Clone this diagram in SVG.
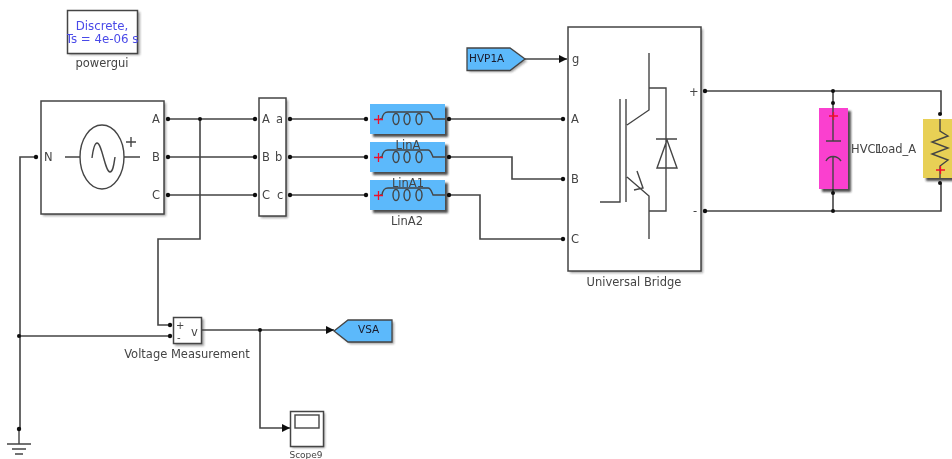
<svg xmlns="http://www.w3.org/2000/svg" width="952" height="459" viewBox="0 0 952 459">
<style>
text{font-family:"DejaVu Sans",sans-serif;font-size:11.500px;fill:#444}
.c{text-anchor:middle}
.b{fill:#fff;stroke:#444;stroke-width:1.5}
.w{fill:none;stroke:#444;stroke-width:1.6}
.i{fill:none;stroke:#444;stroke-width:1.4}
.p{fill:#111}
.sh{fill:#444;opacity:.5;filter:url(#sb)}
.dk{fill:#222;opacity:.8;filter:url(#sb)}
.rd{fill:none;stroke:#f0102a;stroke-width:1.3}
.tag{fill:#1a1a2a;font-size:10.500px}
.d{fill:#4a4ae8;font-size:11.800px}
</style>
<defs>
<filter id="bl" x="-2%" y="-2%" width="104%" height="104%"><feGaussianBlur stdDeviation="0.65"/></filter>
<filter id="sb" x="-20%" y="-20%" width="140%" height="140%"><feGaussianBlur stdDeviation="1"/></filter>
<clipPath id="pg"><rect x="67" y="10" width="71" height="44"/></clipPath>
<marker id="ah" markerWidth="9" markerHeight="8" refX="8" refY="4" orient="auto" markerUnits="userSpaceOnUse"><path d="M0 0L8 4L0 8Z" fill="#111"/></marker>
<g id="coil"><path class="i" d="M0 15H2C3 9 5 8 8 8H48C51 8 52 13 53 15H65"/><ellipse class="i" cx="16" cy="15" rx="3" ry="5.500"/><ellipse class="i" cx="27" cy="15" rx="3" ry="5.500"/><ellipse class="i" cx="39" cy="15" rx="3" ry="5.500"/><path class="rd" d="M-6 15.500H3M-1.500 11V20"/></g>
</defs>
<rect width="952" height="459" fill="#fff"/>
<g filter="url(#bl)">
<g id="connectors">
<path class="w" d="M168 119H254M168 157H254M168 195H254M290 119H366M290 157H366M290 195H366"/>
<path class="w" d="M200 119V239H158V325H168M36 157H20V429M20 336H168"/>
<path class="w" d="M449 119H563M449 157H512V179H563M449 195H480V239H563"/>
<path class="w" d="M525 59H567" marker-end="url(#ah)"/>
<path class="w" d="M202 330H334" marker-end="url(#ah)"/>
<path class="w" d="M260 330V428H290" marker-end="url(#ah)"/>
<path class="w" d="M705 91H941V115M705 211H941V183M833 91V108M833 189V211"/>
</g>
<g id="powergui"><rect class="sh" x="69" y="12" width="71" height="43"/><rect class="b" x="67.500" y="10.500" width="70" height="43"/><g clip-path="url(#pg)"><text class="c d" x="102" y="30">Discrete,</text><text class="c d" x="102" y="42.500">Ts = 4e-06 s</text></g><text class="c" x="102" y="67">powergui</text></g>
<g id="source"><rect class="sh" x="43" y="103" width="123" height="113"/><rect class="b" x="41" y="101" width="123" height="113"/><ellipse class="i" cx="102" cy="157" rx="22" ry="32"/><path class="i" d="M65 157H80M124 157H140M92 158C93 150 95 143 97 143C102 143 105 172 110 172C113 172 114 164 115 157M131 137V147M126 142H136"/><text x="152" y="123">A</text><text x="152" y="161">B</text><text x="152" y="199">C</text><text x="44" y="161">N</text></g>
<g id="transformer"><rect class="sh" x="261" y="100" width="27" height="118"/><rect class="b" x="259" y="98" width="27" height="118"/><text x="262" y="123">A</text><text x="276" y="123">a</text><text x="262" y="161">B</text><text x="275" y="161">b</text><text x="262" y="199">C</text><text x="277" y="199">c</text></g>
<g id="LinA2"><rect class="dk" x="373" y="183" width="75" height="30"/><rect x="370" y="180" width="75" height="30" fill="#5cb9fb"/><use href="#coil" x="380" y="180"/></g>
<g id="LinA1"><rect class="dk" x="373" y="145" width="75" height="30"/><rect x="370" y="142" width="75" height="30" fill="#5cb9fb"/><use href="#coil" x="380" y="142"/></g>
<g id="LinA"><rect class="dk" x="373" y="107" width="75" height="30"/><rect x="370" y="104" width="75" height="30" fill="#5cb9fb"/><use href="#coil" x="380" y="104"/></g>
<text class="c" x="408" y="149">LinA</text><text class="c" x="408" y="187">LinA1</text><text class="c" x="407" y="225">LinA2</text>
<g id="HVP1A"><path class="sh" d="M469 50H512L527 61L512 72H469Z"/><path d="M467 48H510L525 59L510 70.500H467Z" fill="#5cb9fb" stroke="#444" stroke-width="1.300"/><text class="tag" x="469" y="62">HVP1A</text></g>
<g id="bridge"><rect class="sh" x="570" y="29" width="133" height="244"/><rect class="b" x="568" y="27" width="133" height="244"/><path class="i" d="M649 53V110L627 125M649 88H666V211H649M627 177L649 196V239M626 99V202M620 99V202H600M637 171L643 188L634 190M666 139V168M656 139H677M667 140L657 168H677Z"/><text x="572" y="63">g</text><text x="571" y="123">A</text><text x="571" y="183">B</text><text x="571" y="243">C</text><text x="689" y="96">+</text><text x="693" y="215">-</text><text class="c" x="634" y="286">Universal Bridge</text></g>
<g id="HVC1"><rect class="dk" x="822" y="111" width="29" height="81"/><rect x="819" y="108" width="29" height="81" fill="#fa40cf"/><path class="i" d="M833 108V141M826 141H841M833 157V189M826 161C829 155 837 155 841 161"/><path class="rd" d="M829 116H838M833.500 112V120"/><text x="851" y="153">HVC1</text></g>
<g id="Load_A"><rect class="dk" x="926" y="122" width="30" height="59"/><rect x="923" y="119" width="30" height="59" fill="#e8d054"/><path class="i" d="M940 119V131L948 136L932 142L948 148L932 154L948 160L940 166V178"/><path class="rd" d="M936 170H945M940.500 166V174"/><text x="875" y="153">Load_A</text></g>
<g id="measure"><rect class="sh" x="175" y="319" width="29" height="27"/><rect class="b" x="173.500" y="317.500" width="28" height="26"/><text x="176" y="329" style="font-size:10px">+</text><text x="177" y="341" style="font-size:10px">-</text><text x="191" y="336">v</text><text class="c" x="187" y="358">Voltage Measurement</text></g>
<g id="VSA"><path class="sh" d="M336 332L350 322H394V344H350Z"/><path d="M334 331L348 320H392V342H348Z" fill="#5cb9fb" stroke="#444" stroke-width="1.300"/><text class="tag" x="358" y="333">VSA</text></g>
<g id="scope"><rect class="sh" x="292" y="413" width="33" height="35"/><rect class="b" x="290.500" y="411.500" width="33" height="35"/><rect class="i" x="295" y="415" width="24" height="13"/><text class="c" x="306" y="458" style="font-size:9px">Scope9</text></g>
<g id="ground"><path class="i" d="M19 429V444M7 444H31M12 449H26M15 454H23"/></g>
<g class="p" id="ports"><circle cx="200" cy="119" r="2"/><circle cx="19" cy="336" r="2"/><circle cx="260" cy="330" r="2"/><circle cx="833" cy="91" r="2"/><circle cx="833" cy="211" r="2"/><circle cx="19" cy="429" r="2.200"/>
<circle cx="168" cy="119" r="2.200"/><circle cx="168" cy="157" r="2.200"/><circle cx="168" cy="195" r="2.200"/><circle cx="255" cy="119" r="2.200"/><circle cx="255" cy="157" r="2.200"/><circle cx="255" cy="195" r="2.200"/><circle cx="290" cy="119" r="2.200"/><circle cx="290" cy="157" r="2.200"/><circle cx="290" cy="195" r="2.200"/><circle cx="366" cy="119" r="2.200"/><circle cx="366" cy="157" r="2.200"/><circle cx="366" cy="195" r="2.200"/><circle cx="449" cy="119" r="2.200"/><circle cx="449" cy="157" r="2.200"/><circle cx="449" cy="195" r="2.200"/><circle cx="563" cy="119" r="2.200"/><circle cx="563" cy="179" r="2.200"/><circle cx="563" cy="239" r="2.200"/><circle cx="36" cy="157" r="2.200"/><circle cx="170" cy="325" r="2.200"/><circle cx="170" cy="336" r="2.200"/><circle cx="705" cy="91" r="2.200"/><circle cx="705" cy="211" r="2.200"/><circle cx="833" cy="103" r="2"/><circle cx="833" cy="193" r="2"/><circle cx="940" cy="114" r="2"/><circle cx="940" cy="183" r="2"/></g>
</g>
</svg>
